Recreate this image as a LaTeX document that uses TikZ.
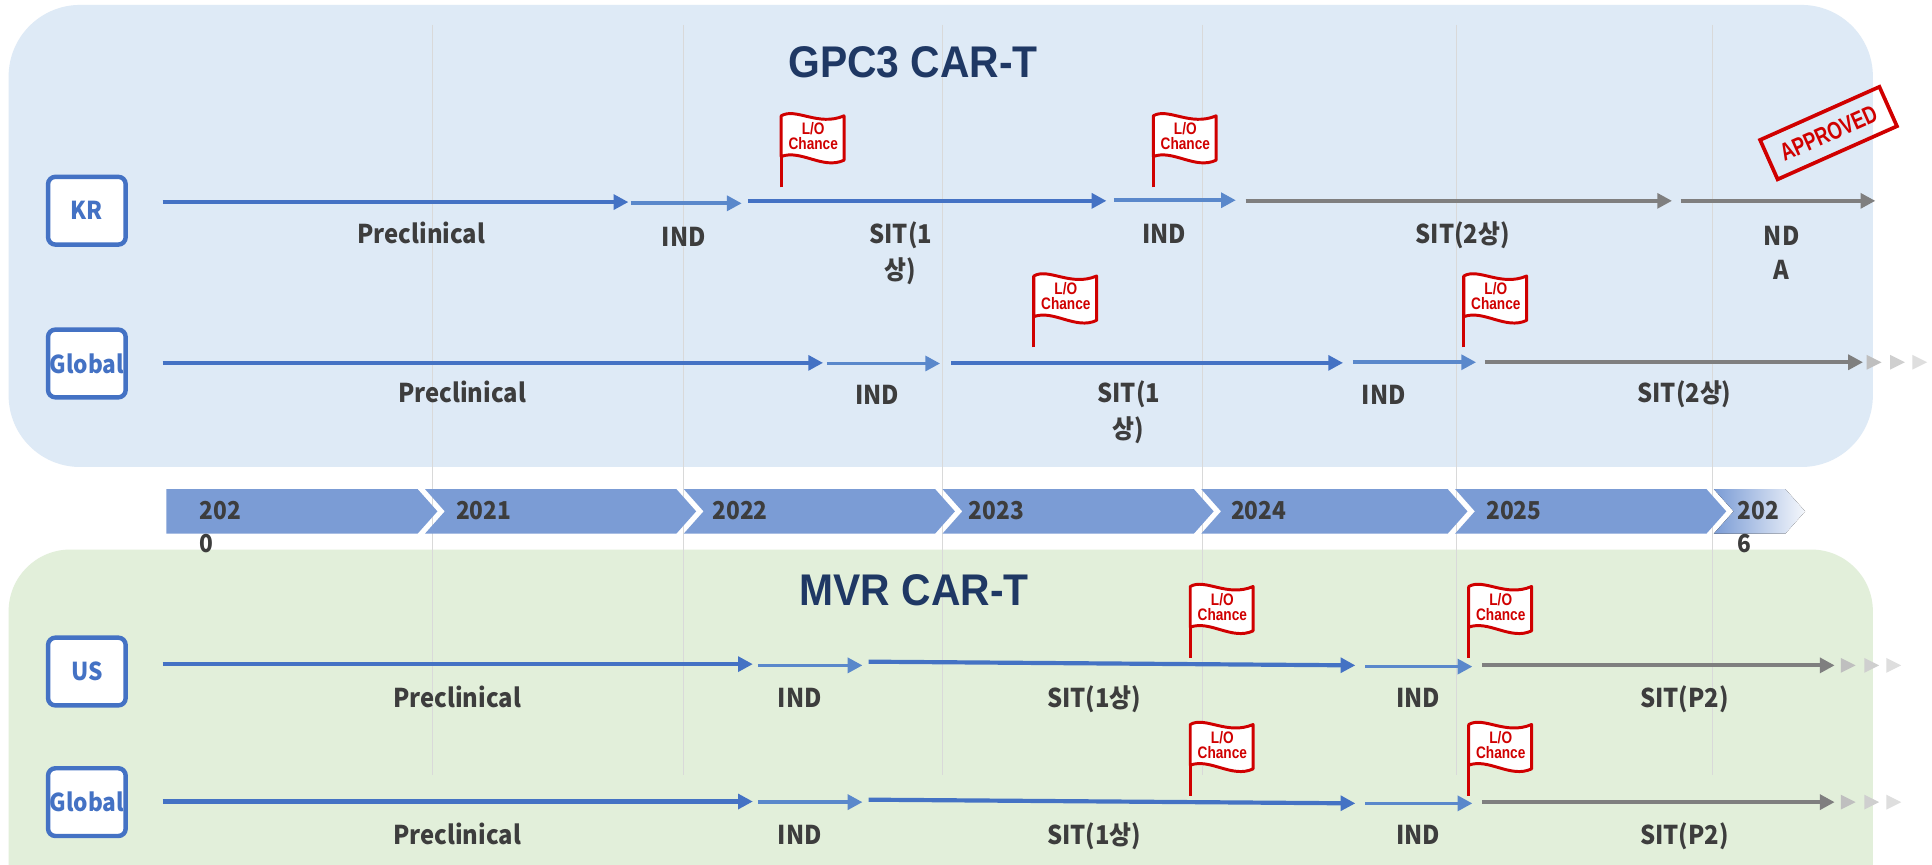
\documentclass[tikz,border=0pt]{standalone}
\usepackage{fontspec}
\setmainfont{Noto Sans CJK KR}[FakeStretch=0.92]
\newfontfamily\titlefont{Liberation Sans}[FakeStretch=0.92]
\newfontfamily\flagfont{Liberation Sans}[FakeStretch=0.82]
\newfontfamily\stampfont{Liberation Sans}[FakeStretch=0.75]
\usetikzlibrary{arrows.meta}
\definecolor{panelblue}{HTML}{DEEAF6}
\definecolor{panelgreen}{HTML}{E2EFDA}
\definecolor{navy}{HTML}{1F3864}
\definecolor{barblue}{HTML}{4472C4}
\definecolor{indblue}{HTML}{5A88CB}
\definecolor{bargray}{HTML}{7F7F7F}
\definecolor{chevblue}{HTML}{7B9CD5}
\definecolor{labgray}{HTML}{3D3D3D}
\definecolor{flagred}{HTML}{D00000}
\definecolor{gridgray}{HTML}{D9D9D9}
\definecolor{fadeA}{HTML}{BFBFBF}
\definecolor{fadeB}{HTML}{CFCFCF}
\definecolor{fadeC}{HTML}{DEDEDE}
\tikzset{
  lane/.style={draw=barblue, line width=3.6pt, rounded corners=6pt, fill=white,
    minimum width=63pt, minimum height=55pt, inner sep=0pt, text=barblue,
    font=\bfseries\fontsize{20}{24}\selectfont},
  phase/.style={anchor=base, inner sep=0pt, text=labgray, font=\bfseries\fontsize{21}{25}\selectfont},
  yearlab/.style={anchor=base west, inner sep=0pt, text=labgray, font=\bfseries\fontsize{20}{24}\selectfont},
  bigtitle/.style={inner sep=0pt, text=navy, font=\titlefont\bfseries\fontsize{36}{40}\selectfont},
  mainbar/.style={draw=barblue, line width=3.4pt, -{Triangle[length=12pt,width=12pt]}},
  indbar/.style={draw=indblue, line width=3pt, -{Triangle[length=12pt,width=12pt]}},
  graybar/.style={draw=bargray, line width=3.4pt, -{Triangle[length=12pt,width=12pt]}},
  gridline/.style={draw=gridgray, line width=1pt},
  flagtext/.style={inner sep=0pt, text=flagred, font=\flagfont\bfseries\fontsize{13.5}{14}\selectfont},
  stamp/.style={draw=flagred, line width=3pt, text=flagred, minimum width=106pt, minimum height=35pt,
    inner sep=0pt, font=\stampfont\bfseries\fontsize{20}{22}\selectfont},
  loflag/.pic={
    \draw[flagred, line width=2.6pt] (0,0) -- (0,-58);
    \filldraw[draw=flagred, fill=white, line width=2.4pt, line join=round]
      (0,-58) .. controls (12,-65) and (30,-49) .. (51,-58) -- (51,-22)
      .. controls (34,-14) and (16,-31) .. (0,-25) -- cycle;
    \node[flagtext] (-lo) at (26,-47.5) {L/O};
    \node[flagtext] (-ch) at (26,-35.5) {Chance};
  }
}
\newcommand\phasebar[6]{%
  \coordinate (#2s) at (#3,#4);
  \coordinate (#2e) at (#5,#6);
  \draw[#1] (#2s) -- (#2e);}
\newcommand\fadetris[2]{%
  \fill[fadeA] (#1,#2-6) -- (#1+12,#2) -- (#1,#2+6) -- cycle;
  \fill[fadeB] (#1+19,#2-6) -- (#1+31,#2) -- (#1+19,#2+6) -- cycle;
  \fill[fadeC] (#1+37,#2-6) -- (#1+49,#2) -- (#1+37,#2+6) -- cycle;}
\begin{document}
\begin{tikzpicture}[x=1pt,y=-1pt]
\useasboundingbox (0,0) rectangle (1568,702);
\clip (0,0) rectangle (1568,702);
\fill[white] (0,0) rectangle (1568,702);
% panels
\fill[panelblue, rounded corners=58pt] (7,4) rectangle (1520,379);
\fill[panelgreen, rounded corners=50pt] (7,446) rectangle (1520,780);
% grid lines
\foreach \gx in {351,555,765,976,1182,1390}
  \draw[gridline] (\gx,20) -- (\gx,629);
% chevrons
\fill[chevblue] (135,397) -- (339,397) -- (355,415) -- (339,433) -- (135,433) -- cycle;
\foreach \s/\e in {345/549,555/759,765/969,975/1175,1181/1385}
  \fill[chevblue] (\s,397) -- (\e,397) -- (\e+16,415) -- (\e,433) -- (\s,433) -- (\s+16,415) -- cycle;
\fill[left color=chevblue, right color=chevblue!8] (1391,397) -- (1449,397) -- (1465,415) -- (1449,433) -- (1391,433) -- (1407,415) -- cycle;
\node[yearlab] (y20a) at (162,422) {202};
\node[yearlab] (y20b) at (162,448) {0};
\node[yearlab] (y21) at (370,422) {2021};
\node[yearlab] (y22) at (578,422) {2022};
\node[yearlab] (y23) at (786,422) {2023};
\node[yearlab] (y24) at (999,422) {2024};
\node[yearlab] (y25) at (1206,422) {2025};
\node[yearlab] (y26a) at (1410,422) {202};
\node[yearlab] (y26b) at (1410,448) {6};
% titles
\node[bigtitle] (gpc) at (741,50.5) {GPC3 CAR-T};
\node[bigtitle] (mvr) at (742,479) {MVR CAR-T};
% lane boxes
\node[lane] (kr) at (70.5,171) {KR};
\node[lane] (glA) at (70.5,295) {Global};
\node[lane] (us) at (70.5,545) {US};
\node[lane] (glB) at (70.5,651) {Global};
% KR row
\phasebar{mainbar}{kA}{132}{164}{510}{164}
\phasebar{indbar}{kB}{512}{165}{602}{165}
\phasebar{mainbar}{kC}{607}{163}{898}{163}
\phasebar{indbar}{kD}{904}{162.5}{1003}{162.5}
\phasebar{graybar}{kE}{1011}{163}{1357}{163}
\phasebar{graybar}{kF}{1364}{163}{1522}{163}
\node[phase] (kl1) at (342,198) {Preclinical};
\node[phase] (kl2) at (555,200) {IND};
\node[phase] (kl3a) at (731,198) {SIT(1};
\node[phase] (kl3b) at (731,227) {상)};
\node[phase] (kl4) at (945,198) {IND};
\node[phase] (kl5) at (1187,198) {SIT(2상)};
\node[phase] (kl6a) at (1446,199) {ND};
\node[phase] (kl6b) at (1446,227) {A};
\pic (kf1) at (634,152) {loflag};
\pic (kf2) at (936,152) {loflag};
\node[stamp, rotate=24] (approved) at (1484,108) {APPROVED};
% GPC3 Global row
\phasebar{mainbar}{gA}{132}{294.5}{668}{294.5}
\phasebar{indbar}{gB}{671}{295}{763}{295}
\phasebar{mainbar}{gC}{772}{294.5}{1090}{294.5}
\phasebar{indbar}{gD}{1098}{294}{1198}{294}
\phasebar{graybar}{gE}{1205}{294}{1512}{294}
\fadetris{1515}{294}
\node[phase] (gl1) at (375,327) {Preclinical};
\node[phase] (gl2) at (712,328) {IND};
\node[phase] (gl3a) at (916,327) {SIT(1};
\node[phase] (gl3b) at (916,356) {상)};
\node[phase] (gl4) at (1123,328) {IND};
\node[phase] (gl5) at (1367,327) {SIT(2상)};
\pic (gf1) at (839,282) {loflag};
\pic (gf2) at (1188,282) {loflag};
% US row
\phasebar{mainbar}{uA}{132}{539}{611}{539}
\phasebar{indbar}{uB}{615}{540}{700}{540}
\phasebar{mainbar}{uC}{705}{537}{1100}{540}
\phasebar{indbar}{uD}{1108}{541}{1195}{541}
\phasebar{graybar}{uE}{1203}{540}{1489}{540}
\fadetris{1494}{540}
\node[phase] (ul1) at (371,574) {Preclinical};
\node[phase] (ul2) at (649,574) {IND};
\node[phase] (ul3) at (888,574) {SIT(1상)};
\node[phase] (ul4) at (1151,574) {IND};
\node[phase] (ul5) at (1367,574) {SIT(P2)};
\pic (uf1) at (966,534) {loflag};
\pic (uf2) at (1192,534) {loflag};
% MVR Global row
\phasebar{mainbar}{mA}{132}{650.5}{611}{650.5}
\phasebar{indbar}{mB}{615}{651}{700}{651}
\phasebar{mainbar}{mC}{705}{649}{1100}{652}
\phasebar{indbar}{mD}{1108}{652}{1195}{652}
\phasebar{graybar}{mE}{1203}{651}{1489}{651}
\fadetris{1494}{651}
\node[phase] (ml1) at (371,685) {Preclinical};
\node[phase] (ml2) at (649,685) {IND};
\node[phase] (ml3) at (888,685) {SIT(1상)};
\node[phase] (ml4) at (1151,685) {IND};
\node[phase] (ml5) at (1367,685) {SIT(P2)};
\pic (mf1) at (966,646) {loflag};
\pic (mf2) at (1192,646) {loflag};
\end{tikzpicture}
\end{document}
